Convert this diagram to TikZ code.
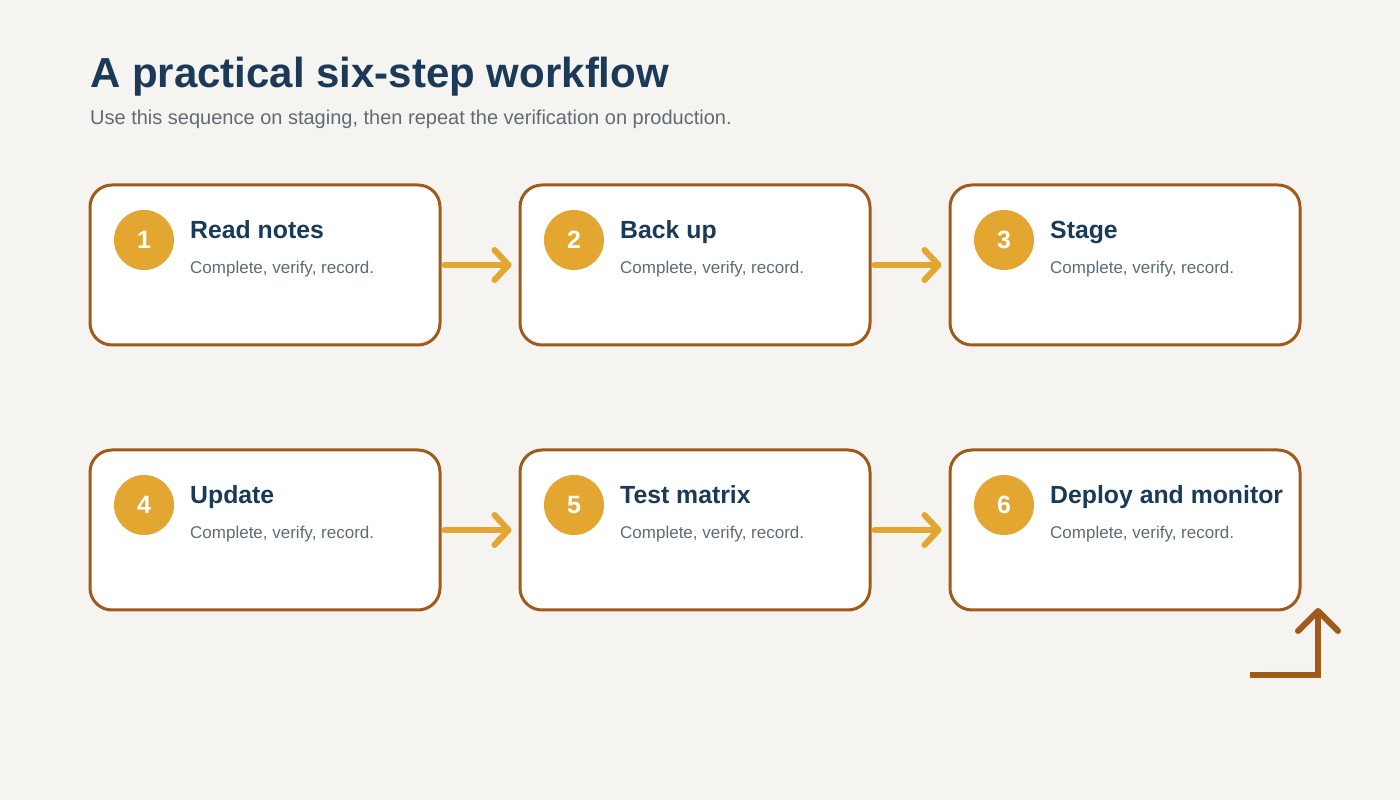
\documentclass[tikz,border=0pt]{standalone}
\usepackage{fontspec}
\setmainfont{Liberation Sans}
\usepackage{tikz}
\usetikzlibrary{arrows.meta, positioning}

\definecolor{paper}{HTML}{F5F4F0}
\definecolor{navy}{HTML}{1B3A57}
\definecolor{slate}{HTML}{5F6B76}
\definecolor{rust}{HTML}{A05A1A}
\definecolor{gold}{HTML}{E3A731}

\begin{document}
\begin{tikzpicture}[x=1pt,y=1pt,node distance=77pt,
    stepbox/.style={draw=rust,line width=3pt,fill=white,rounded corners=22pt,
      minimum width=350pt,minimum height=160pt,inner sep=0pt},
    badge/.style={circle,fill=gold,minimum size=60pt,inner sep=0pt,
      text=white,font=\fontsize{25}{25}\selectfont\bfseries},
    steptitle/.style={anchor=base west,inner sep=0pt,text=navy,
      font=\fontsize{24.8}{24.8}\selectfont\bfseries},
    stepnote/.style={anchor=base west,inner sep=0pt,text=slate,
      font=\fontsize{17}{17}\selectfont},
    flow/.style={draw=gold,line width=6pt,line cap=round,
      -{Straight Barb[length=14pt,width=30pt,round]},
      shorten <=3pt,shorten >=7pt}]

    \fill[paper] (0,0) rectangle (1400,800);
    \useasboundingbox (0,0) rectangle (1400,800);

    % heading
    \node[anchor=base west,inner sep=0pt,text=navy,
      font=\fontsize{42}{42}\selectfont\bfseries] (head) at (90,712)
      {A practical six-step workflow};
    \node[anchor=base west,inner sep=0pt,text=slate,
      font=\fontsize{20}{20}\selectfont] (sub) at (90,675)
      {Use this sequence on staging, then repeat the verification on production.};

    % boxes
    \node[stepbox] (s1) at (265,535) {};
    \node[stepbox] (s2) [right=of s1] {};
    \node[stepbox] (s3) [right=of s2] {};
    \node[stepbox] (s4) [below=102pt of s1] {};
    \node[stepbox] (s5) [right=of s4] {};
    \node[stepbox] (s6) [right=of s5] {};

    % badges and texts
    \foreach \i/\t in {1/Read notes,2/Back up,3/Stage,4/Update,5/Test matrix,6/Deploy and monitor}{
      \node[badge] (b\i) at ([shift={(55.5,25)}]s\i.west) {\i};
      \node[steptitle] (t\i) at ([shift={(101.5,26)}]s\i.west) {\t};
      \node[stepnote] (n\i) at ([shift={(101.5,-9)}]s\i.west) {Complete, verify, record.};
    }

    % connectors
    \draw[flow] (s1) -- (s2);
    \draw[flow] (s2) -- (s3);
    \draw[flow] (s4) -- (s5);
    \draw[flow] (s5) -- (s6);

    \coordinate (loopstart) at (1250,125);
    \coordinate (looptip) at (1318,192);
    \draw[rust,line width=6pt,
      -{Straight Barb[length=20pt,width=40pt,round]}] (loopstart) -| (looptip);
\end{tikzpicture}
\end{document}
